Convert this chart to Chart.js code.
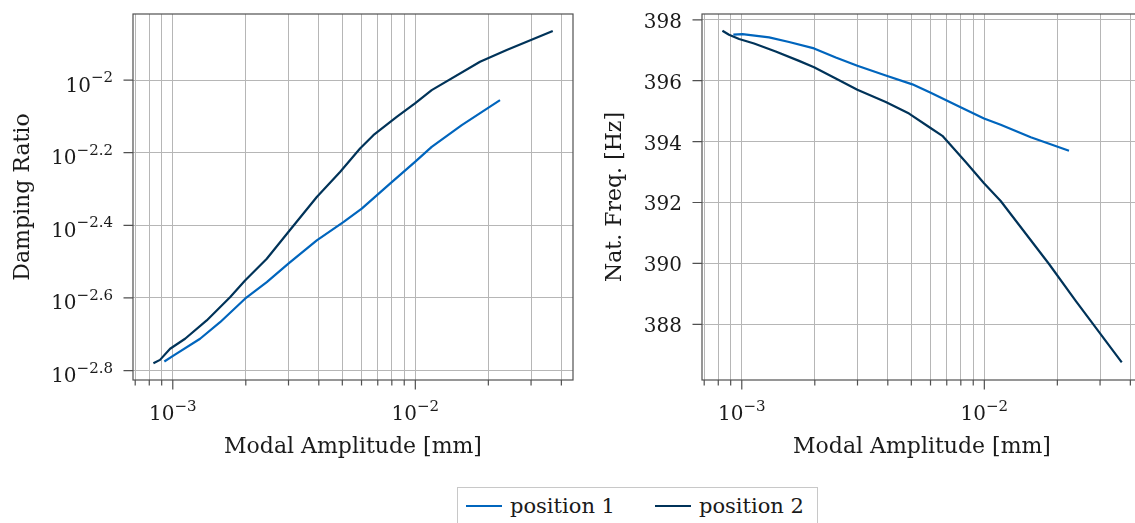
<!DOCTYPE html>
<html>
<head>
<meta charset="utf-8">
<script src="https://cdn.jsdelivr.net/npm/chart.js@4.4.0/dist/chart.umd.min.js"></script>
<style>
  html, body { margin: 0; padding: 0; background: #fff; overflow: hidden; }
  #wrap { position: relative; width: 1135px; height: 523px; overflow: hidden; }
  canvas { position: absolute; top: 0; }
  #legend { position: absolute; left: 457px; top: 487px; width: 361px; height: 50px; border: 1px solid #c8c8c8;
            box-sizing: border-box; font: 21px 'DejaVu Serif'; color: #1a1a1a; }
  #legend .row { display: flex; align-items: center; height: 36px; padding-left: 8px; }
  #legend .ln { display: inline-block; width: 36px; height: 2px; margin-right: 8px; }
  #legend .gap { display: inline-block; width: 40px; }
</style>
</head>
<body>
<div id="wrap">
  <canvas id="left" width="590" height="470" style="left:0px"></canvas>
  <canvas id="right" width="570" height="470" style="left:590px"></canvas>
  <div id="legend"><div class="row">
    <span class="ln" style="background:#0065bd"></span><span>position 1</span>
    <span class="gap"></span>
    <span class="ln" style="background:#003359"></span><span>position 2</span>
  </div></div>
</div>
<script>
// modal amplitude [mm]
const xPos1 = [9.23e-4, 1.006e-3, 1.296e-3, 1.567e-3, 1.986e-3, 2.441e-3, 2.996e-3, 3.924e-3,
               5.049e-3, 6.012e-3, 7.866e-3, 9.97e-3, 1.168e-2, 1.554e-2, 2.234e-2];
const xPos2 = [8.32e-4, 8.86e-4, 9.75e-4, 1.124e-3, 1.380e-3, 1.722e-3, 1.986e-3, 2.441e-3, 2.996e-3,
               3.924e-3, 4.893e-3, 5.916e-3, 6.714e-3, 8.380e-3, 9.97e-3, 1.168e-2, 1.848e-2, 2.381e-2, 3.686e-2];

// damping ratio
const dampPos1 = [1.679e-3, 1.743e-3, 1.939e-3, 2.154e-3, 2.500e-3, 2.776e-3, 3.121e-3, 3.619e-3,
                  4.064e-3, 4.427e-3, 5.188e-3, 5.952e-3, 6.546e-3, 7.514e-3, 8.808e-3];
const dampPos2 = [1.660e-3, 1.696e-3, 1.820e-3, 1.939e-3, 2.178e-3, 2.523e-3, 2.805e-3, 3.221e-3, 3.815e-3,
                  4.764e-3, 5.585e-3, 6.481e-3, 7.052e-3, 7.920e-3, 8.626e-3, 9.385e-3, 1.123e-2, 1.210e-2, 1.365e-2];

// natural frequency [Hz]
const freqPos1 = [397.51, 397.53, 397.42, 397.27, 397.06, 396.76, 396.49, 396.17,
                  395.88, 395.60, 395.15, 394.76, 394.55, 394.14, 393.70];
const freqPos2 = [397.64, 397.51, 397.37, 397.22, 396.96, 396.65, 396.44, 396.07, 395.70,
                  395.30, 394.92, 394.48, 394.19, 393.33, 392.63, 392.05, 389.98, 388.77, 386.75];

// ticks
const xMajorTicks = [1e-3, 1e-2];
const xMajorExps = ['\u22123', '\u22122'];
const xMinorTicks = [7e-4, 8e-4, 9e-4, 2e-3, 3e-3, 4e-3, 5e-3, 6e-3, 7e-3, 8e-3, 9e-3, 2e-2, 3e-2, 4e-2];
const dampTickExps = [-2.8, -2.6, -2.4, -2.2, -2];
const dampTickLabels = ['\u22122.8', '\u22122.6', '\u22122.4', '\u22122.2', '\u22122'];
const freqTicks = [388, 390, 392, 394, 396, 398];

const colPos1 = '#0065bd';
const colPos2 = '#003359';
const gridColor = '#b6b6b6';
const frameColor = '#505050';
const textColor = '#1a1a1a';
const fontName = "'DejaVu Serif'";
const tickFont = '20px ' + fontName;
const expFont = '15px ' + fontName;

function drawPow(ctx, x, y, exp, align) {
    ctx.textBaseline = 'alphabetic';
    ctx.textAlign = 'left';
    ctx.font = tickFont;
    const wb = ctx.measureText('10').width;
    ctx.font = expFont;
    const we = ctx.measureText(exp).width;
    const x0 = align === 'center' ? x - (wb + we) / 2 : x - (wb + we);
    ctx.font = tickFont;
    ctx.fillText('10', x0, y);
    ctx.font = expFont;
    ctx.fillText(exp, x0 + wb, y - 9.5);
}

// frame, outer ticks and TeX-like tick labels
const texAxes = {
    id: 'texAxes',
    afterDraw(chart, args, o) {
        const ctx = chart.ctx;
        const a = chart.chartArea;
        const xs = chart.scales.x, ys = chart.scales.y;
        ctx.save();
        ctx.strokeStyle = frameColor;
        ctx.lineWidth = 1.2;
        ctx.strokeRect(a.left, a.top, a.right - a.left, a.bottom - a.top);
        ctx.beginPath();
        xMinorTicks.forEach(v => {
            const p = xs.getPixelForValue(v);
            ctx.moveTo(p, a.bottom); ctx.lineTo(p, a.bottom + 5.5);
        });
        xMajorTicks.forEach(v => {
            const p = xs.getPixelForValue(v);
            ctx.moveTo(p, a.bottom); ctx.lineTo(p, a.bottom + 9.5);
        });
        o.yTicks.forEach(v => {
            const p = ys.getPixelForValue(v);
            ctx.moveTo(a.left - 9.5, p); ctx.lineTo(a.left, p);
        });
        ctx.stroke();

        ctx.fillStyle = textColor;
        xMajorTicks.forEach((v, i) => drawPow(ctx, xs.getPixelForValue(v), a.bottom + 40, xMajorExps[i], 'center'));
        o.yTicks.forEach((v, i) => {
            const p = ys.getPixelForValue(v);
            if (o.yExps) {
                drawPow(ctx, a.left - 20, p + 11.5, o.yExps[i], 'right');
            } else {
                ctx.font = tickFont;
                ctx.textAlign = 'right';
                ctx.textBaseline = 'alphabetic';
                ctx.fillText(o.yLabels[i], a.left - 20, p + 8);
            }
        });
        ctx.restore();
    }
};

function makeChart(id, c) {
    const line = (label, xs, ys, col) => ({
        label: label,
        data: xs.map((x, i) => ({ x: x, y: ys[i] })),
        borderColor: col,
        backgroundColor: col,
        borderWidth: 2.2,
        borderJoinStyle: 'round',
        pointRadius: 0,
        fill: false,
        tension: 0
    });
    return new Chart(document.getElementById(id), {
        type: 'line',
        data: {
            datasets: [
                line('position 1', xPos1, c.y1, colPos1),
                line('position 2', xPos2, c.y2, colPos2)
            ]
        },
        options: {
            responsive: false,
            animation: false,
            layout: { padding: { top: 14, right: c.padRight, left: 0, bottom: 0 } },
            plugins: {
                legend: { display: false },
                tooltip: { enabled: false },
                texAxes: { yTicks: c.yTicks, yExps: c.yExps, yLabels: c.yLabels }
            },
            scales: {
                x: {
                    type: 'logarithmic',
                    min: 6.855e-4,
                    max: 4.467e-2,
                    afterBuildTicks: s => { s.ticks = xMajorTicks.concat(xMinorTicks).map(v => ({ value: v })); },
                    afterFit: s => { s.height = 90; },
                    ticks: { display: false },
                    grid: { color: gridColor, lineWidth: 1, drawTicks: false },
                    border: { display: false },
                    title: {
                        display: true, text: 'Modal Amplitude [mm]', color: textColor,
                        font: { family: fontName, size: 22 }, padding: { top: 0, bottom: 10 }
                    }
                },
                y: {
                    type: c.yType,
                    min: c.yMin,
                    max: c.yMax,
                    afterBuildTicks: s => { s.ticks = c.yTicks.map(v => ({ value: v })); },
                    afterFit: s => { s.width = c.yWidth; },
                    ticks: { display: false },
                    grid: { color: gridColor, lineWidth: 1, drawTicks: false },
                    border: { display: false },
                    title: {
                        display: true, text: c.yTitle, color: textColor,
                        font: { family: fontName, size: 22 }, padding: { top: c.titlePad, bottom: 0 }
                    }
                }
            }
        },
        plugins: [texAxes]
    });
}

makeChart('left', {
    y1: dampPos1, y2: dampPos2,
    yType: 'logarithmic', yMin: Math.pow(10, -2.826), yMax: Math.pow(10, -1.818),
    yTicks: dampTickExps.map(e => Math.pow(10, e)), yExps: dampTickLabels,
    yTitle: 'Damping Ratio', yWidth: 133, titlePad: 10, padRight: 17
});

makeChart('right', {
    y1: freqPos1, y2: freqPos2,
    yType: 'linear', yMin: 386.17, yMax: 398.19,
    yTicks: freqTicks, yLabels: freqTicks.map(String),
    yTitle: 'Nat. Freq. [Hz]', yWidth: 112, titlePad: 12, padRight: 18
});
</script>
</body>
</html>
